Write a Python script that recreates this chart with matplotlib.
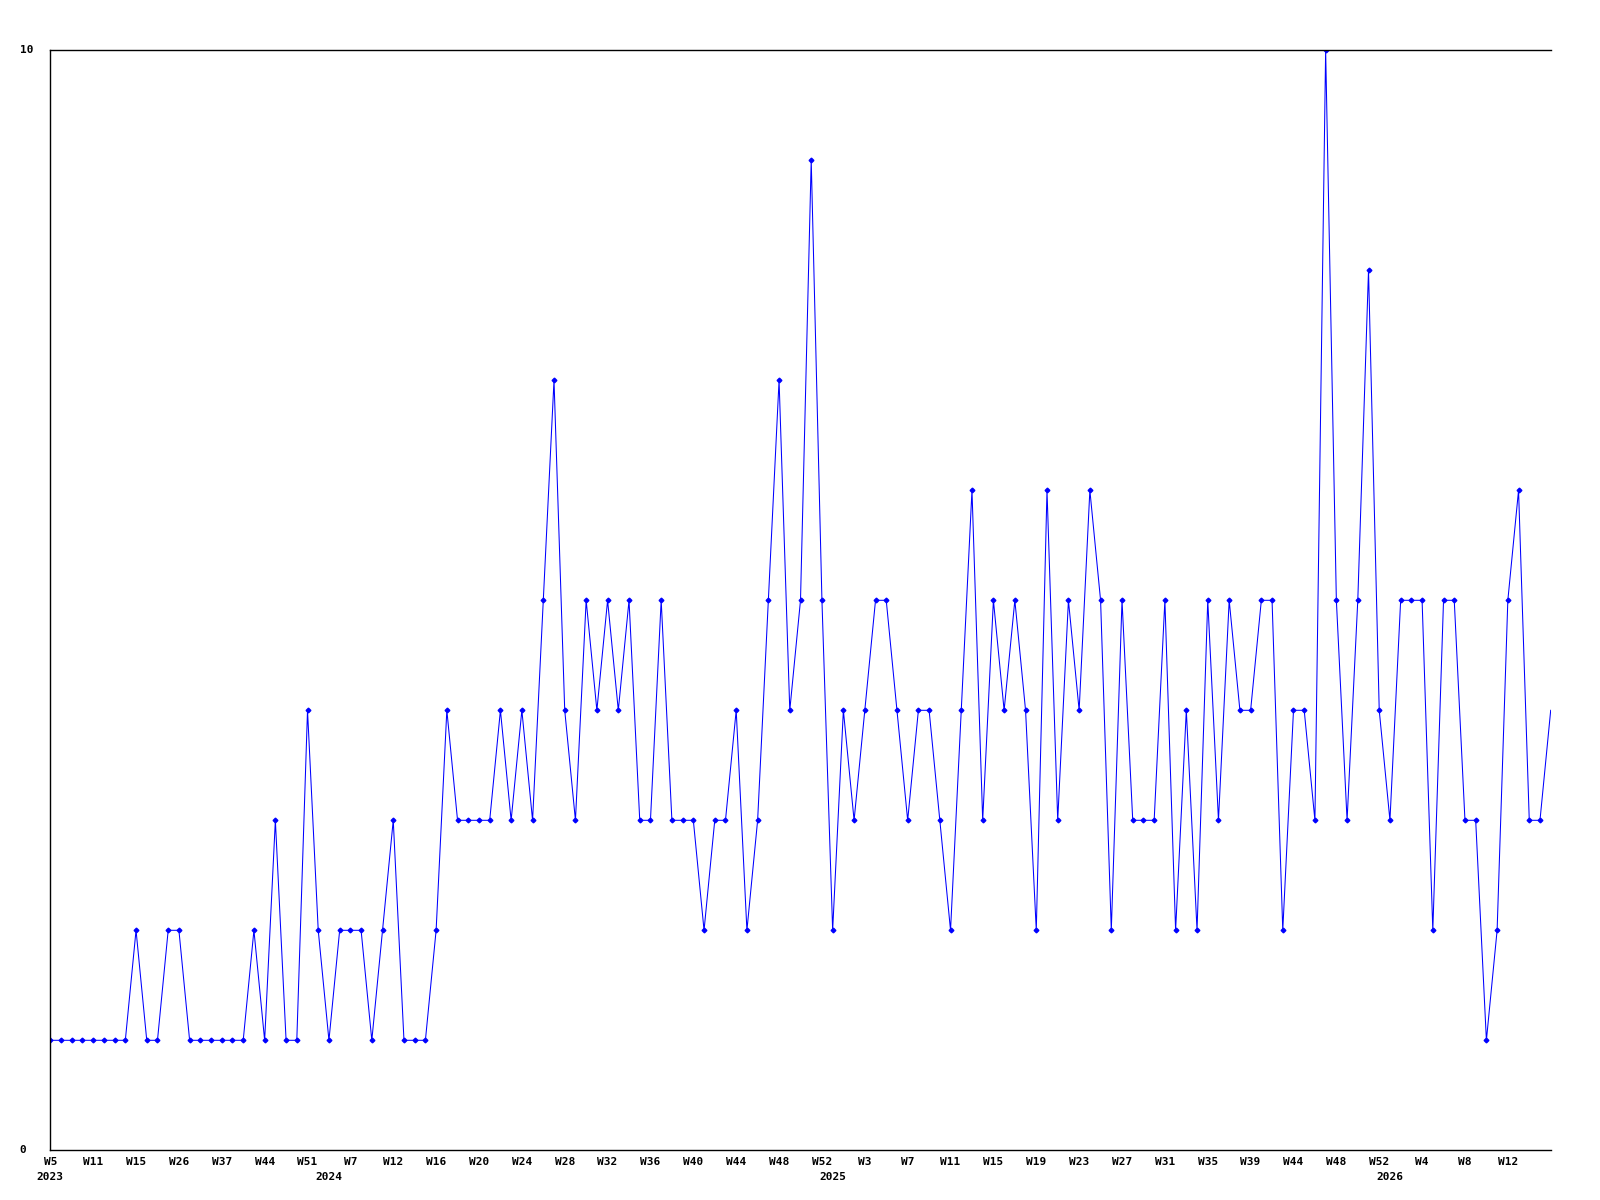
import matplotlib
matplotlib.use("Agg")
import matplotlib.pyplot as plt

values = [
    1, 1, 1, 1, 1, 1, 1, 1, 2, 1, 1, 2, 2, 1, 1, 1, 1, 1, 1, 2, 1, 3, 1, 1, 4, 2, 1, 2, 2, 2, 1, 2, 3, 1, 1, 1, 2, 4,
    3, 3, 3, 3, 4, 3, 4, 3, 5, 7, 4, 3, 5, 4, 5, 4, 5, 3, 3, 5, 3, 3, 3, 2, 3, 3, 4, 2, 3, 5, 7, 4, 5,
    9, 5, 2, 4, 3, 4, 5, 5, 4, 3, 4, 4, 3, 2, 4, 6, 3, 5, 4, 5, 4, 2, 6, 3, 5, 4, 6, 5, 2, 5, 3, 3, 3, 5, 2, 4,
    2, 5, 3, 5, 4, 4, 5, 5, 2, 4, 4, 3, 10, 5, 3, 5, 8, 4, 3, 5, 5, 5, 2, 5, 5, 3, 3, 1, 2, 5, 6, 3, 3, 4,
]
week_labels = ["W5", "W11", "W15", "W26", "W37", "W44", "W51", "W7", "W12", "W16", "W20", "W24",
               "W28", "W32", "W36", "W40", "W44", "W48", "W52", "W3", "W7", "W11", "W15", "W19",
               "W23", "W27", "W31", "W35", "W39", "W44", "W48", "W52", "W4", "W8", "W12"]
week_label_step = 4
year_labels = ["2023", "2024", "2025", "2026"]
year_positions = [0, 26, 73, 125]
y_ticks = [0, 10]

FONT = dict(family="DejaVu Sans Mono", fontweight="bold", fontsize=8)

fig = plt.figure(figsize=(16, 12), dpi=100)
ax = fig.add_axes([50.3 / 1600, 1 - 1150.3 / 1200, 1500.4 / 1600, 1100 / 1200])

x = list(range(len(values)))
ax.plot(x, values, color="#0000FF", linewidth=0.75, marker="D", markersize=2.4,
        markevery=list(range(len(values) - 1)), clip_on=True)

ax.set_xlim(0, len(values) - 1)
ax.set_ylim(0, 10)

for s in ["left", "bottom", "top"]:
    ax.spines[s].set_color("black")
    ax.spines[s].set_linewidth(1.0)
ax.spines["right"].set_visible(False)

ax.set_xticks([])
ax.set_yticks([])

xt = [i * week_label_step for i in range(len(week_labels))]
for xi, lab in zip(xt, week_labels):
    ax.annotate(lab, xy=(xi, 0), xycoords=("data", "axes fraction"),
                xytext=(0, -12), textcoords="offset pixels",
                ha="center", va="center", **FONT)
for xi, lab in zip(year_positions, year_labels):
    ax.annotate(lab, xy=(xi, 0), xycoords=("data", "axes fraction"),
                xytext=(0, -27), textcoords="offset pixels",
                ha="center", va="center", **FONT)

ax.annotate(str(y_ticks[1]), xy=(0, y_ticks[1]), xycoords=("axes fraction", "data"),
            xytext=(-30, 0), textcoords="offset pixels", ha="left", va="center", **FONT)
ax.annotate(str(y_ticks[0]), xy=(0, y_ticks[0]), xycoords=("axes fraction", "data"),
            xytext=(-31, 0), textcoords="offset pixels", ha="left", va="center", **FONT)

fig.savefig("out.png", dpi=100, facecolor="white")
